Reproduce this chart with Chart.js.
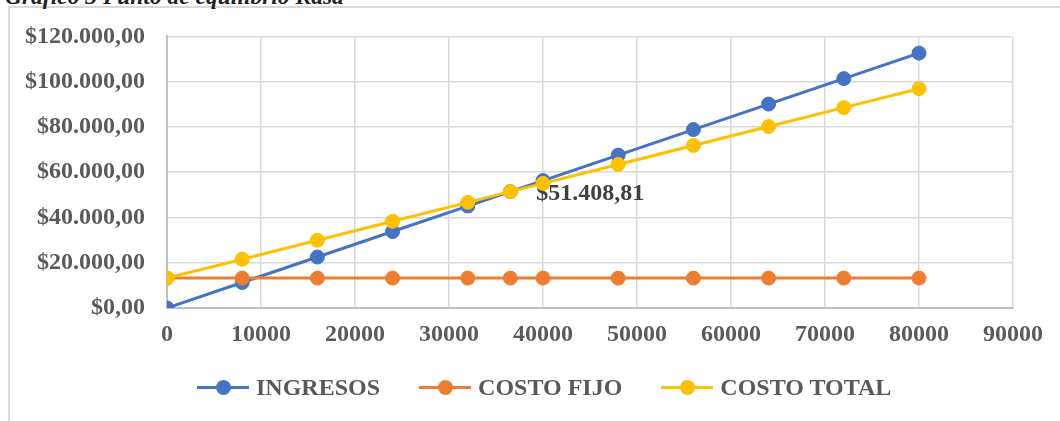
<!DOCTYPE html>
<html>
<head>
<meta charset="utf-8">
<script src="https://cdn.jsdelivr.net/npm/chart.js@4/dist/chart.umd.min.js"></script>
<style>
  html, body { margin: 0; padding: 0; background: #fff; }
  #wrap { position: relative; width: 1060px; height: 421px; overflow: hidden; }
  #titulo {
    position: absolute; left: 5px; top: -15px; white-space: nowrap;
    font: italic bold 23.5px "Liberation Serif", "Times New Roman", serif;
    line-height: 23px; color: #222;
  }
  #marco {
    position: absolute; left: 8px; top: 6px; width: 1100px; height: 500px;
    border-left: 2px solid #d9d9d9; border-top: 2px solid #d9d9d9;
  }
  #grafico { position: absolute; left: 0; top: 0; }
  #leyenda {
    position: absolute; left: 197px; top: 373px; display: flex; align-items: center;
    font: bold 24px "Liberation Serif", "Times New Roman", serif; color: #595959;
  }
  .item { display: flex; align-items: center; margin-right: 39px; height: 28px; }
  .marca { position: relative; width: 52px; height: 28px; margin-right: 7px; }
  .marca .linea { position: absolute; left: 0; right: 0; top: 12.5px; height: 3px; }
  .marca .punto { position: absolute; left: 19px; top: 6.5px; width: 15px; height: 15px; border-radius: 50%; }
</style>
</head>
<body>
<div id="wrap">
  <div id="marco"></div>
  <div id="titulo">Gráfico 3 Punto de equilibrio Kasa</div>
  <canvas id="grafico" width="1060" height="421"></canvas>
  <div id="leyenda"></div>
</div>
<script>
// unidades vendidas (eje x)
const unidades = [0, 8000, 16000, 24000, 32000, 36522, 40000, 48000, 56000, 64000, 72000, 80000];

const ingresos = [0, 11260, 22520, 33780, 45040, 51409, 56300, 67560, 78830, 90090, 101350, 112610];
const costoFijo = [13200, 13200, 13200, 13200, 13200, 13200, 13200, 13200, 13200, 13200, 13200, 13200];
const costoTotal = [13200, 21570, 29940, 38310, 46680, 51409, 55050, 63420, 71790, 80160, 88530, 96900];

// punto de equilibrio
const equilibrioX = 36522;
const equilibrioY = 51408.81;

const series = [
  { label: 'INGRESOS', data: ingresos, color: '#4472C4' },
  { label: 'COSTO FIJO', data: costoFijo, color: '#ED7D31' },
  { label: 'COSTO TOTAL', data: costoTotal, color: '#FFC000' },
];

const fuente = '"Liberation Serif", "Times New Roman", serif';
const gris = '#595959';

function pesos(v, dec) {
  const partes = Math.abs(v).toFixed(dec).split('.');
  const miles = partes[0].replace(/\B(?=(\d{3})+(?!\d))/g, '.');
  return '$' + miles + ',' + partes[1];
}

// etiqueta del punto de equilibrio, se dibuja debajo de las series
const etiquetaEquilibrio = {
  id: 'etiquetaEquilibrio',
  beforeDatasetsDraw(chart) {
    const { ctx, scales } = chart;
    const px = scales.x.getPixelForValue(equilibrioX);
    const py = scales.y.getPixelForValue(equilibrioY);
    ctx.save();
    ctx.font = 'bold 24px ' + fuente;
    ctx.fillStyle = '#404040';
    ctx.textAlign = 'left';
    ctx.textBaseline = 'middle';
    ctx.fillText(pesos(equilibrioY, 2), px + 26, py + 2);
    ctx.restore();
  }
};

new Chart(document.getElementById('grafico'), {
  type: 'line',
  data: {
    datasets: series.map((s, i) => ({
      label: s.label,
      data: unidades.map((u, k) => ({ x: u, y: s.data[k] })),
      borderColor: s.color,
      backgroundColor: s.color,
      pointBackgroundColor: s.color,
      pointBorderColor: s.color,
      borderWidth: 3,
      pointRadius: 7,
      pointBorderWidth: 1,
      tension: 0,
      order: series.length - i,
    })),
  },
  options: {
    responsive: false,
    animation: false,
    layout: { padding: { left: 0, right: 47, top: 36, bottom: 0 } },
    plugins: { legend: { display: false }, tooltip: { enabled: false } },
    scales: {
      x: {
        type: 'linear',
        min: 0, max: 90000,
        ticks: {
          stepSize: 10000,
          padding: 12,
          color: gris,
          font: { family: fuente, size: 24, weight: 'bold' },
          maxRotation: 0,
          callback: v => String(v),
        },
        grid: { color: '#d9d9d9', lineWidth: 1.5, drawTicks: false },
        border: { color: '#bfbfbf', width: 2 },
        afterFit(scale) { scale.height = 113; },
      },
      y: {
        min: 0, max: 120000,
        ticks: {
          stepSize: 20000,
          padding: 22,
          color: gris,
          font: { family: fuente, size: 24, weight: 'bold' },
          callback: v => pesos(v, 2),
        },
        grid: { color: '#d9d9d9', lineWidth: 1.5, drawTicks: false },
        border: { color: '#bfbfbf', width: 2 },
        afterFit(scale) { scale.width = 167; },
      },
    },
  },
  plugins: [etiquetaEquilibrio],
});

// leyenda con línea y marcador
const leyenda = document.getElementById('leyenda');
series.forEach(s => {
  const item = document.createElement('div');
  item.className = 'item';
  item.innerHTML =
    '<div class="marca"><div class="linea" style="background:' + s.color + '"></div>' +
    '<div class="punto" style="background:' + s.color + '"></div></div>' +
    '<span>' + s.label + '</span>';
  leyenda.appendChild(item);
});
</script>
</body>
</html>
